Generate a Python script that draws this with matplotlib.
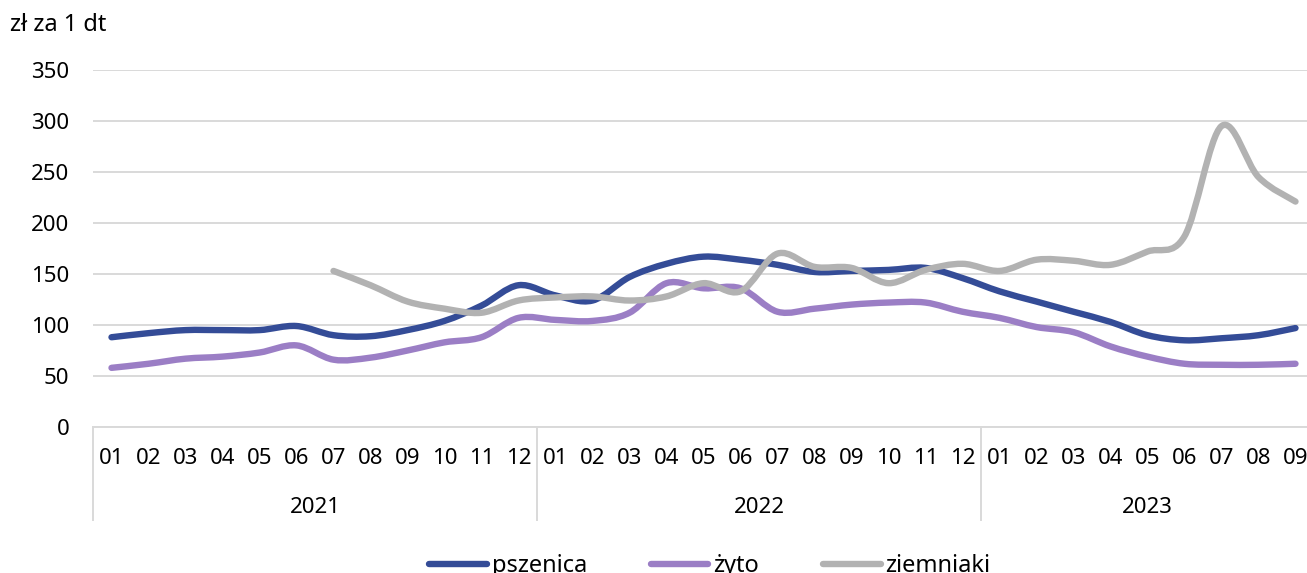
import matplotlib

matplotlib.use("Agg")
import matplotlib.pyplot as plt  # noqa: E402
from matplotlib.lines import Line2D  # noqa: E402
from matplotlib.path import Path  # noqa: E402
from matplotlib.patches import PathPatch  # noqa: E402

plt.rcParams["font.family"] = ["Noto Sans", "DejaVu Sans"]

# monthly prices, 2021-01 .. 2023-09 (zł za 1 dt)
months = ["01", "02", "03", "04", "05", "06", "07", "08", "09", "10", "11", "12"] * 2 + \
         ["01", "02", "03", "04", "05", "06", "07", "08", "09"]
years = ["2021", "2022", "2023"]
pszenica = [88, 92, 95, 95, 95, 99, 90, 89, 95, 104, 119, 139,
            129, 124, 147, 160, 167, 164, 159, 152, 153, 154, 156, 146,
            133, 123, 113, 103, 90, 85, 87, 90, 97]
zyto = [58, 62, 67, 69, 73, 80, 66, 68, 75, 83, 88, 107,
        105, 104, 112, 141, 136, 136, 113, 116, 120, 122, 122, 113,
        107, 98, 93, 79, 69, 62, 61, 61, 62]
# potatoes start in 2021-07 (index 6)
ziemniaki = [None] * 6 + [153, 139, 123, 116, 112, 124,
                          127, 128, 124, 128, 141, 133, 170, 157, 156, 141, 154, 160,
                          153, 164, 163, 159, 172, 187, 295, 245, 221]

_SERIES = [
    ("pszenica", pszenica, "#344C97"),
    ("żyto", zyto, "#9B7EC5"),
    ("ziemniaki", ziemniaki, "#B2B2B2"),
]
_GRID = "#D9D9D9"
_FS = 16      # tick labels
_FS_BIG = 17  # unit label and legend


def _smooth_path(xs, ys):
    """Excel-like smoothed line: Catmull-Rom segments written as cubic Bezier path codes."""
    pts = list(zip(xs, ys))
    verts, codes = [pts[0]], [Path.MOVETO]
    for i in range(len(pts) - 1):
        p0 = pts[i - 1] if i > 0 else pts[i]
        p1, p2 = pts[i], pts[i + 1]
        p3 = pts[i + 2] if i + 2 < len(pts) else pts[i + 1]
        c1 = (p1[0] + (p2[0] - p0[0]) / 6, p1[1] + (p2[1] - p0[1]) / 6)
        c2 = (p2[0] - (p3[0] - p1[0]) / 6, p2[1] - (p3[1] - p1[1]) / 6)
        verts += [c1, c2, p2]
        codes += [Path.CURVE4] * 3
    return Path(verts, codes)


fig = plt.figure(figsize=(13.07, 5.73), dpi=100)
n = len(months)
# axes runs slightly past the right edge, as in the cropped original
ax = fig.add_axes([93 / 1307, 1 - 427 / 573, n * 37 / 1307, 357 / 573])
ax.set_xlim(-0.5, n - 0.5)
ax.set_ylim(0, 350)

for label, vals, color in _SERIES:
    xs = [i for i, v in enumerate(vals) if v is not None]
    ys = [v for v in vals if v is not None]
    ax.add_patch(PathPatch(_smooth_path(xs, ys), fill=False, edgecolor=color, lw=4.6,
                           capstyle="round", joinstyle="round", zorder=3))

ax.set_yticks(range(0, 351, 50))
ax.tick_params(axis="y", length=0, pad=17, labelsize=_FS, colors="#000000")
ax.grid(axis="y", color=_GRID, lw=1.4)
ax.set_axisbelow(True)
for side in ("left", "right", "top"):
    ax.spines[side].set_visible(False)
ax.spines["bottom"].set_color(_GRID)
ax.spines["bottom"].set_linewidth(1.4)

ax.set_xticks(range(n))
ax.set_xticklabels(months)
ax.tick_params(axis="x", length=0, pad=15, labelsize=_FS)

# multi-level category axis: year separators and year labels
trans = ax.get_xaxis_transform()
for b in (-0.5, 11.5, 23.5, n - 0.5):
    ax.plot([b, b], [0, -0.26], color=_GRID, lw=1.4, transform=trans, clip_on=False)
for k, yr in enumerate(years):
    end = min(12 * (k + 1), n)
    ax.text((12 * k + end - 1) / 2, -0.225, yr, transform=trans, ha="center", va="center",
            fontsize=_FS)

fig.text(10 / 1307, 1 - 25 / 573, "zł za 1 dt", ha="left", va="center", fontsize=_FS_BIG)

handles = [Line2D([], [], color=c, lw=4.6, solid_capstyle="round") for _, _, c in _SERIES]
fig.legend(handles, [s[0] for s in _SERIES], loc="center", bbox_to_anchor=(0.543, 1 - 566 / 573),
           ncol=3, frameon=False, fontsize=_FS_BIG, handlelength=2.45, handletextpad=0.2,
           columnspacing=2.7)

fig.savefig("out.png", dpi=100)
